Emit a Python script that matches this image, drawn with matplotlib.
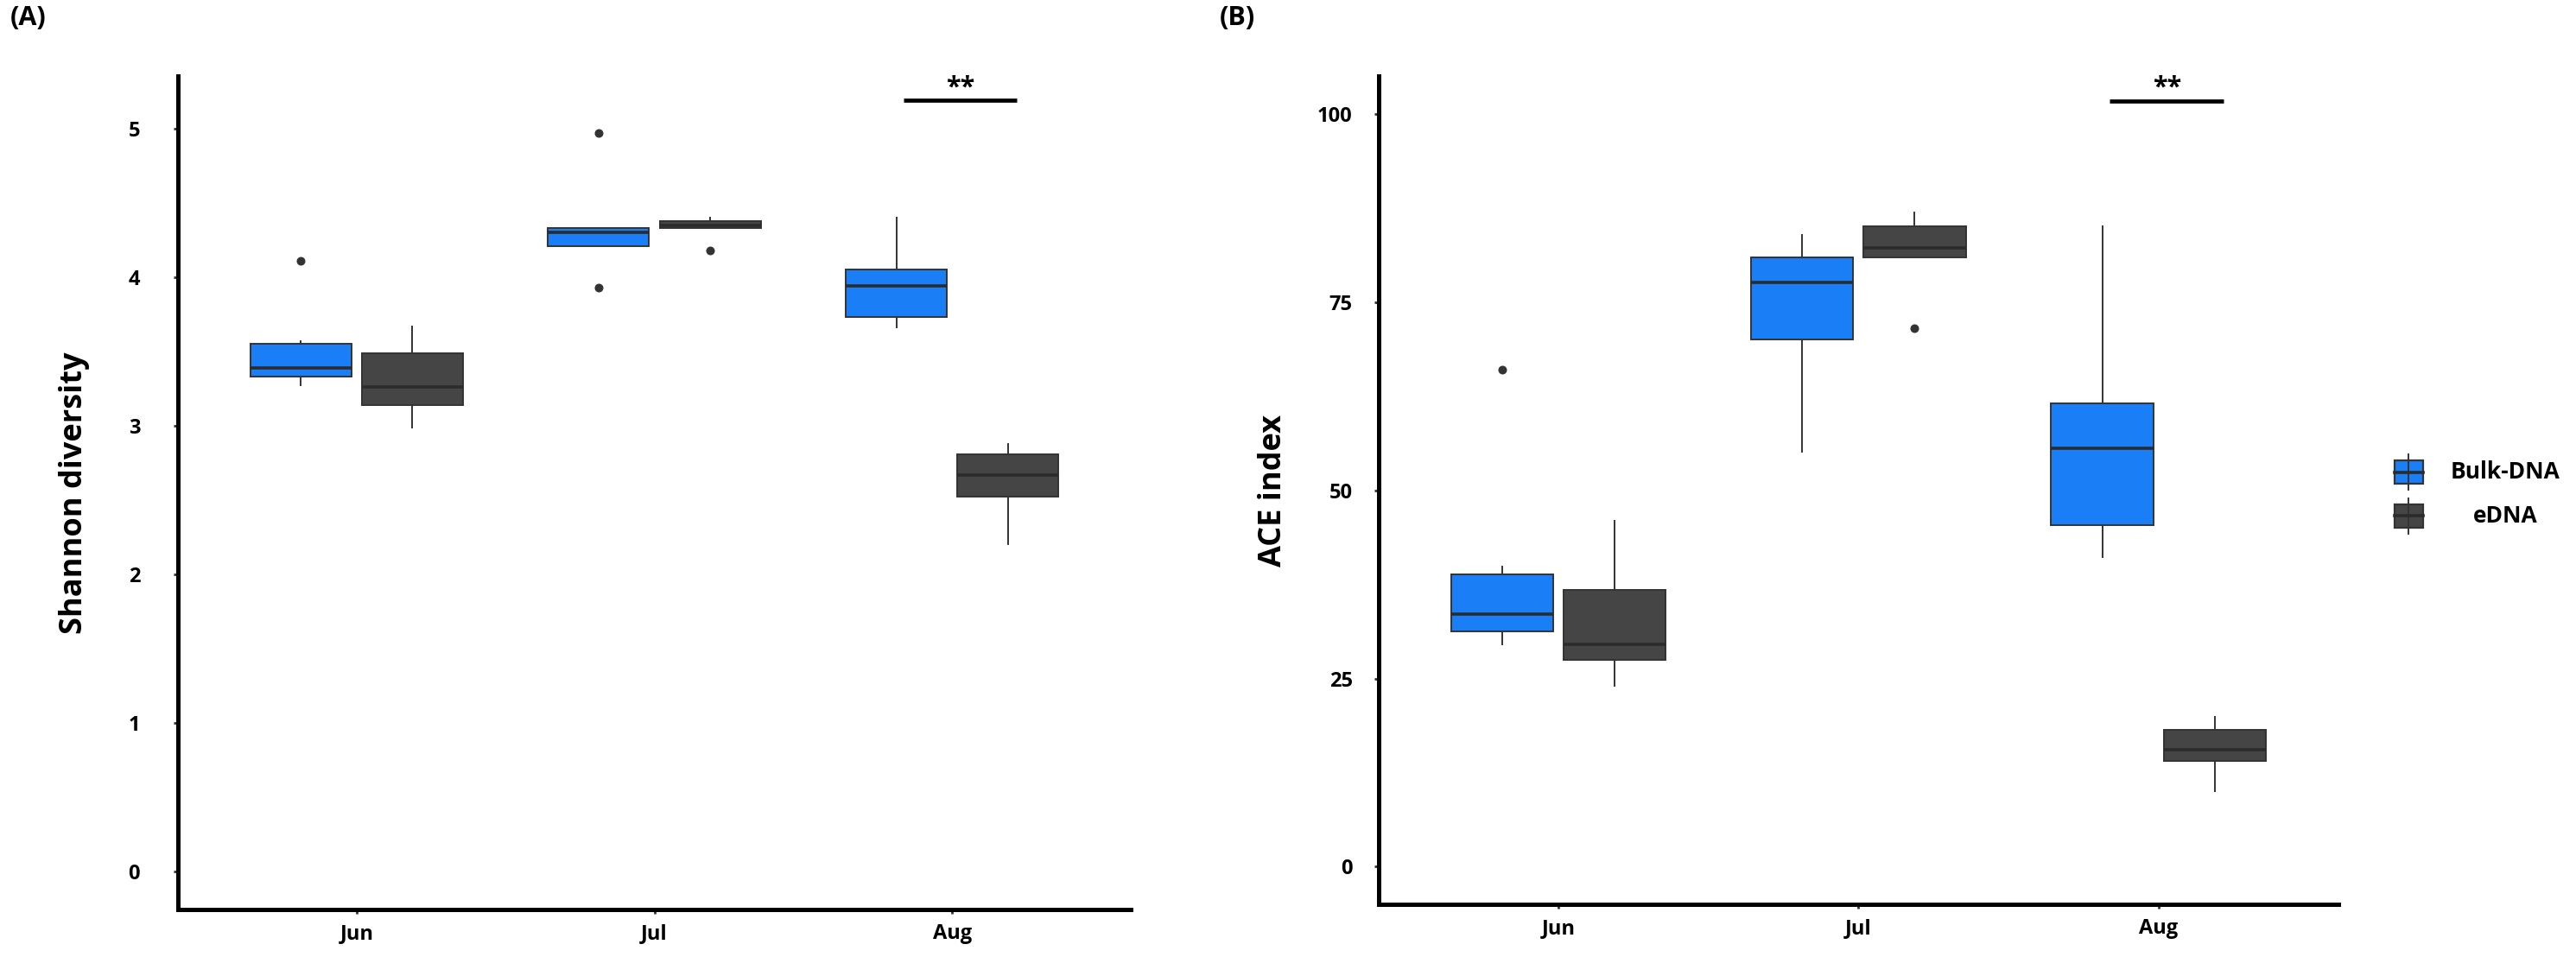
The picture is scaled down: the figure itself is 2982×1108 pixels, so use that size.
import matplotlib
matplotlib.use("Agg")
import matplotlib.pyplot as plt
from matplotlib.patches import Rectangle
from matplotlib.lines import Line2D

plt.rcParams['font.family'] = ['Open Sans', 'DejaVu Sans']

# --- data ---
months = ["Jun", "Jul", "Aug"]
groups = ["Bulk-DNA", "eDNA"]
colors = ["#1a7ef6", "#454545"]

# Shannon diversity: [Jun, Jul, Aug] per group
shannon_bulk_whislo = [3.27, 4.21, 3.66]
shannon_bulk_q1 = [3.33, 4.21, 3.73]
shannon_bulk_med = [3.39, 4.30, 3.94]
shannon_bulk_q3 = [3.55, 4.33, 4.05]
shannon_bulk_whishi = [3.57, 4.33, 4.40]
shannon_bulk_fliers = [[4.11], [4.97, 3.93], []]

shannon_edna_whislo = [2.99, 4.33, 2.20]
shannon_edna_q1 = [3.14, 4.33, 2.52]
shannon_edna_med = [3.26, 4.35, 2.67]
shannon_edna_q3 = [3.49, 4.38, 2.81]
shannon_edna_whishi = [3.67, 4.40, 2.88]
shannon_edna_fliers = [[], [4.18], []]

# ACE index
ace_bulk_whislo = [29.5, 55.1, 41.1]
ace_bulk_q1 = [31.3, 70.1, 45.4]
ace_bulk_med = [33.6, 77.6, 55.6]
ace_bulk_q3 = [38.8, 81.0, 61.6]
ace_bulk_whishi = [39.9, 84.0, 85.1]
ace_bulk_fliers = [[66.1], [], []]

ace_edna_whislo = [24.0, 81.0, 10.0]
ace_edna_q1 = [27.5, 81.0, 14.0]
ace_edna_med = [29.5, 82.2, 15.5]
ace_edna_q3 = [36.8, 85.1, 18.2]
ace_edna_whishi = [46.0, 87.0, 19.9]
ace_edna_fliers = [[], [71.6], []]

shannon_ticks = [0, 1, 2, 3, 4, 5]
ace_ticks = [0, 25, 50, 75, 100]

sig_label = "**"
sig_month = 2          # Aug
shannon_sig_y = 5.19
ace_sig_y = 101.8

W, H = 2982, 1108
DPI = 200
fig = plt.figure(figsize=(W / DPI, H / DPI), dpi=DPI)


def px_axes(left, right, bottom, top):
    return fig.add_axes([left / W, 1 - bottom / H, (right - left) / W, (bottom - top) / H])


def make_stats(whislo, q1, med, q3, whishi, fliers):
    return [dict(whislo=a, q1=b, med=c, q3=d, whishi=e, fliers=f)
            for a, b, c, d, e, f in zip(whislo, q1, med, q3, whishi, fliers)]


def draw_panel(ax, stats_by_group, ylim, yticks, ylabel, sig_y, ypad, labelpad):
    xs = range(1, len(months) + 1)
    offs = [-0.1875, 0.1875]
    for stats, off, col in zip(stats_by_group, offs, colors):
        ax.bxp(stats, positions=[x + off for x in xs], widths=0.34,
               patch_artist=True, showcaps=False,
               boxprops=dict(facecolor=col, edgecolor="#333333", linewidth=0.7),
               medianprops=dict(color="#2b2b2b", linewidth=1.3),
               whiskerprops=dict(color="#333333", linewidth=0.7),
               flierprops=dict(marker="o", markerfacecolor="#333333",
                               markeredgecolor="#333333", markersize=2.6))
    # significance bar
    ax.plot([sig_month + 1 - 0.163, sig_month + 1 + 0.218], [sig_y, sig_y],
            color="black", lw=1.7, solid_capstyle="butt")
    ax.annotate(sig_label, (sig_month + 1 + 0.029, sig_y), xytext=(0, 0),
                textcoords="offset points", ha="center", va="bottom",
                fontsize=11, fontweight="bold")

    ax.set_xlim(0.4, 3.6)
    ax.set_ylim(*ylim)
    ax.set_xticks(list(xs))
    ax.set_xticklabels(months)
    ax.set_yticks(yticks)
    ax.set_yticklabels([str(t) for t in yticks])
    for s in ["top", "right"]:
        ax.spines[s].set_visible(False)
    for s in ["left", "bottom"]:
        ax.spines[s].set_linewidth(1.8)
        ax.spines[s].set_color("black")
    ax.tick_params(axis="both", length=1.8, width=1.0, color="#333333",
                   labelsize=8.5, labelcolor="black")
    ax.tick_params(axis="y", pad=ypad)
    ax.tick_params(axis="x", pad=4)
    for lab in ax.get_xticklabels() + ax.get_yticklabels():
        lab.set_fontweight("bold")
    ax.set_ylabel(ylabel, fontsize=13, fontweight="bold", labelpad=labelpad)


axA = px_axes(206, 1309, 1052.7, 88)
draw_panel(axA,
           [make_stats(shannon_bulk_whislo, shannon_bulk_q1, shannon_bulk_med,
                       shannon_bulk_q3, shannon_bulk_whishi, shannon_bulk_fliers),
            make_stats(shannon_edna_whislo, shannon_edna_q1, shannon_edna_med,
                       shannon_edna_q3, shannon_edna_whishi, shannon_edna_fliers)],
           (-0.256, 5.355), shannon_ticks, "Shannon diversity", shannon_sig_y,
           ypad=14, labelpad=16)

axB = px_axes(1595.7, 2707, 1047.3, 88.3)
draw_panel(axB,
           [make_stats(ace_bulk_whislo, ace_bulk_q1, ace_bulk_med,
                       ace_bulk_q3, ace_bulk_whishi, ace_bulk_fliers),
            make_stats(ace_edna_whislo, ace_edna_q1, ace_edna_med,
                       ace_edna_q3, ace_edna_whishi, ace_edna_fliers)],
           (-5.05, 105.05), ace_ticks, "ACE index", ace_sig_y,
           ypad=9, labelpad=12)

# panel tags
fig.text(12 / W, 1 - 6 / H, "(A)", fontsize=11, fontweight="bold", va="top", ha="left")
fig.text(1412 / W, 1 - 6 / H, "(B)", fontsize=11, fontweight="bold", va="top", ha="left")

# legend (ggplot-style boxplot keys)
leg = px_axes(2760, 2982, 640, 500)
leg.set_xlim(2760, 2982)
leg.set_ylim(640, 500)
leg.axis("off")
for i, (g, col) in enumerate(zip(groups, colors)):
    cy = 546.7 + i * 50.6
    leg.add_line(Line2D([2788, 2788], [cy - 20.5, cy + 20.5], color="#333333", lw=0.7))
    leg.add_patch(Rectangle((2771.5, cy - 13.5), 33, 27, facecolor=col,
                            edgecolor="#333333", lw=0.8))
    leg.add_line(Line2D([2771.5, 2804.5], [cy, cy], color="#2b2b2b", lw=1.3))
    leg.text(2900, cy, g, ha="center", va="center", fontsize=9.5, fontweight="bold")

fig.savefig("out.png", dpi=DPI)
